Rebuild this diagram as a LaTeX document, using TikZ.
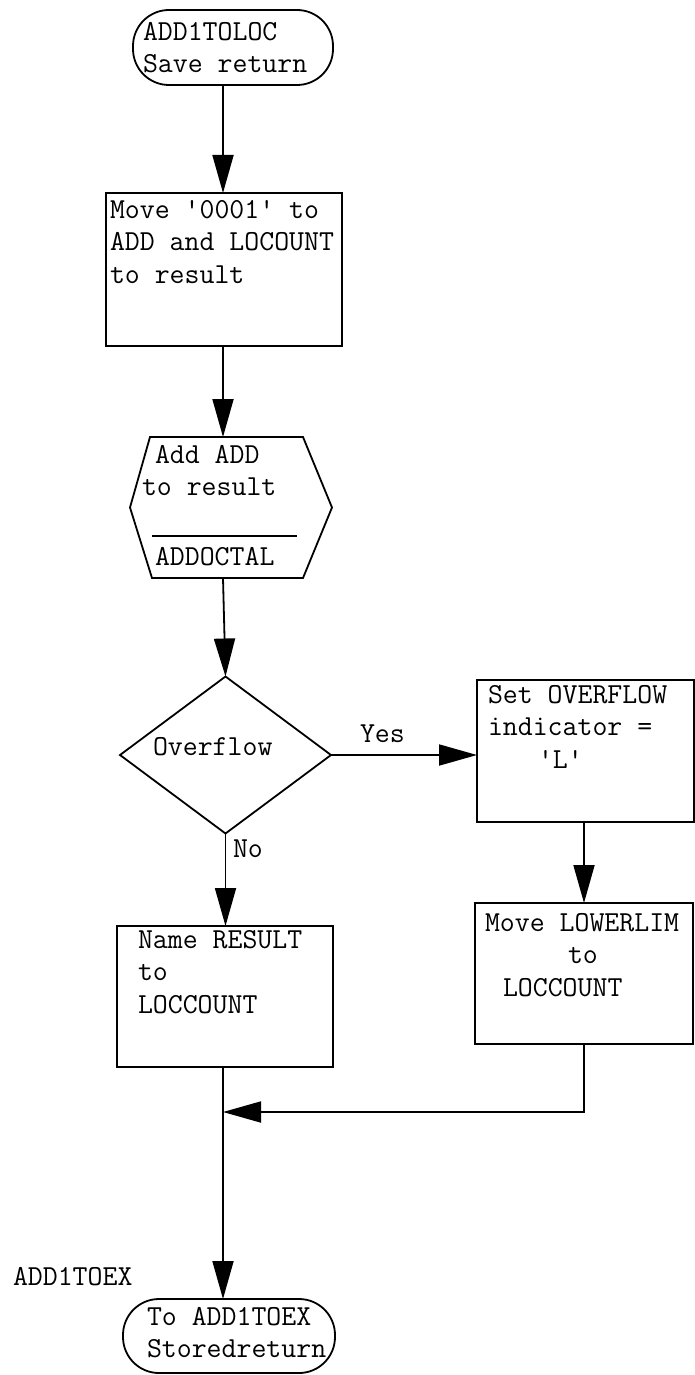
\documentclass[tikz,border=0pt]{standalone}
\usetikzlibrary{arrows.meta,shapes.geometric}
\begin{document}
\begin{tikzpicture}[x=1pt,y=-1pt,
  line width=1.8pt,
  every node/.style={inner sep=0pt,outer sep=0pt},
  lbl/.style={font=\ttfamily\fontsize{29}{32.5}\selectfont, anchor=north west, align=left},
  arr/.style={-{Triangle[length=38pt,width=21pt]}},
  pbox/.style={draw, rectangle, anchor=north west},
  term/.style={draw, rectangle, rounded corners=36pt, anchor=north west}
]
\fill[white] (0,0) rectangle (695,1375);
\useasboundingbox (0,0) rectangle (695,1375);

% shapes
\node[term, minimum width=200, minimum height=75] (start) at (133,10) {};
\node[lbl] (tstart) at (143,22) {ADD1TOLOC\\Save return};

\node[pbox, minimum width=236, minimum height=153] (b1) at (106,193) {};
\node[lbl] (tb1) at (110,200) {Move \textquotesingle 0001\textquotesingle{} to\\ADD and LOCOUNT\\to result};

\node[minimum width=202, minimum height=141, anchor=north west] (hex) at (130,437) {};
\draw (hex.west) -- ([xshift=20pt]hex.north west) -- ([xshift=-29pt]hex.north east) -- (hex.east)
  -- ([xshift=-29pt]hex.south east) -- ([xshift=22pt]hex.south west) -- cycle;
\node[lbl] (thex) at (142,445) {\hspace*{13pt}Add ADD\\to result};
\draw (152,536) -- (297,536);
\node[lbl] (thex2) at (155,547) {ADDOCTAL};

\node[draw, diamond, minimum width=211, minimum height=157] (dec) at (225.5,755) {};
\node[lbl] (tdec) at (153,737) {Overflow};

\node[pbox, minimum width=217, minimum height=142] (set) at (477,680) {};
\node[lbl] (tset) at (488,685) {Set OVERFLOW\\indicator =\\\hspace*{50pt}\textquotesingle L\textquotesingle};

\node[pbox, minimum width=218, minimum height=141] (low) at (475,903) {};
\node[lbl] (tlow) at (485,913) {Move LOWERLIM\\\hspace*{83pt}to\\\hspace*{18pt}LOCCOUNT};

\node[pbox, minimum width=216, minimum height=141] (name) at (117,926) {};
\node[lbl] (tname) at (138,930) {Name RESULT\\to\\LOCCOUNT};

\node[term, minimum width=212, minimum height=74] (end) at (123,1299) {};
\node[lbl] (tend) at (147,1307) {To ADD1TOEX\\Storedreturn};
\node[lbl] (lend) at (13,1267) {ADD1TOEX};

\node[lbl] (yes) at (360,725) {Yes};
\node[lbl] (no) at (233,840) {No};

\coordinate (mx) at (223,0);
\coordinate (rx) at (584,0);
\coordinate (join) at (223,1112);

% connectors
\draw[arr] (start.south -| mx) -- (b1.north -| mx);
\draw[arr] (b1.south -| mx) -- (hex.north -| mx);
\draw[arr] (hex.south -| mx) -- (dec.north);
\draw[arr] (dec.east) -- (set.west |- dec.east);
\draw[arr] (set.south -| rx) -- (low.north -| rx);
\draw[arr] (dec.south) -- (name.north -| dec.south);
\draw[arr] (low.south -| rx) |- (join);
\draw[arr] (name.south -| mx) -- (end.north -| mx);
\end{tikzpicture}
\end{document}
